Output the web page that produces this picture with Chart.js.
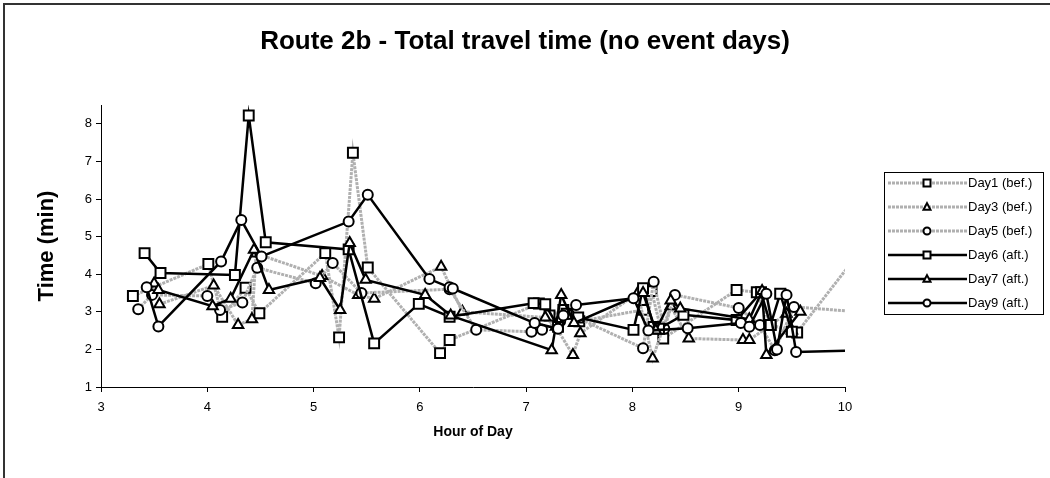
<!DOCTYPE html>
<html>
<head>
<meta charset="utf-8">
<script src="https://cdn.jsdelivr.net/npm/chart.js@4.4.0/dist/chart.umd.min.js"></script>
<style>
  html, body { margin: 0; padding: 0; background: #fff; }
  #wrap { position: relative; width: 1050px; height: 478px; }
</style>
</head>
<body>
<div id="wrap"><canvas id="canvas"></canvas></div>
<script>
var chartTitle = 'Route 2b - Total travel time (no event days)';
var xTitle = 'Hour of Day';
var yTitle = 'Time (min)';
var xTicks = [3, 4, 5, 6, 7, 8, 9, 10];
var yTicks = [1, 2, 3, 4, 5, 6, 7, 8];

var seriesNames = ['Day1 (bef.)', 'Day3 (bef.)', 'Day5 (bef.)', 'Day6 (aft.)', 'Day7 (aft.)', 'Day9 (aft.)'];

// before-event days (grey lines)
var day1Hours = [3.30, 4.01, 4.14, 4.36, 4.49, 5.11, 5.24, 5.37, 5.51, 6.19, 6.28, 7.12, 7.22, 7.35, 7.50, 8.10, 8.18, 8.29, 8.98, 9.17, 9.30, 9.55, 10.25];
var day1Times = [3.42, 4.27, 2.87, 3.64, 2.96, 4.56, 2.32, 7.23, 4.18, 1.90, 2.25, 3.22, 2.90, 3.05, 2.75, 3.05, 3.55, 2.29, 3.58, 3.52, 2.65, 2.45, 5.00];

var day3Hours = [3.55, 4.06, 4.29, 4.42, 4.46, 5.08, 5.42, 5.57, 6.20, 6.40, 7.18, 7.28, 7.44, 7.51, 8.05, 8.19, 8.36, 8.53, 9.04, 9.10, 9.45, 9.50];
var day3Times = [3.20, 3.70, 2.65, 2.80, 4.55, 3.95, 3.45, 3.35, 4.20, 3.00, 2.85, 2.60, 1.85, 2.43, 3.50, 1.76, 3.15, 2.29, 2.25, 2.25, 2.95, 2.50];

var day5Hours = [3.35, 3.48, 4.00, 4.12, 4.33, 4.47, 5.02, 5.18, 5.45, 6.28, 6.53, 7.05, 7.15, 7.32, 7.40, 8.10, 8.20, 8.30, 8.40, 9.00, 9.20, 9.34, 9.52, 10.50];
var day5Times = [3.07, 3.45, 3.42, 3.05, 3.25, 4.17, 3.76, 4.30, 3.50, 3.60, 2.52, 2.47, 2.52, 2.75, 2.95, 2.03, 3.80, 2.55, 3.45, 3.10, 2.65, 1.98, 3.13, 2.92];

// after-event days (black lines)
var day6Hours = [3.41, 3.56, 4.26, 4.39, 4.55, 5.33, 5.57, 5.99, 6.28, 7.07, 7.18, 7.30, 7.38, 7.49, 8.01, 8.10, 8.20, 8.25, 8.48, 8.98, 9.21, 9.30, 9.39, 9.50];
var day6Times = [4.56, 4.03, 3.98, 8.22, 4.85, 4.66, 2.16, 3.21, 2.87, 3.23, 3.20, 2.60, 2.95, 2.85, 2.52, 3.63, 2.60, 2.55, 2.92, 2.78, 3.52, 2.65, 3.48, 2.47];

var day7Hours = [3.50, 3.54, 4.05, 4.22, 4.44, 4.58, 5.06, 5.25, 5.34, 5.49, 6.05, 6.29, 7.24, 7.33, 7.45, 8.10, 8.22, 8.36, 8.45, 9.10, 9.22, 9.26, 9.58];
var day7Times = [3.75, 3.58, 3.15, 3.35, 4.65, 3.58, 3.90, 3.05, 4.83, 3.85, 3.45, 2.90, 1.98, 3.45, 2.70, 3.50, 2.50, 3.30, 3.09, 2.80, 3.55, 1.85, 3.00];

var day9Hours = [3.43, 3.54, 4.13, 4.32, 4.51, 5.33, 5.51, 6.09, 6.28, 6.31, 7.08, 7.30, 7.35, 7.47, 8.01, 8.15, 8.52, 9.02, 9.10, 9.26, 9.36, 9.45, 9.54, 10.80];
var day9Times = [3.65, 2.61, 4.34, 5.44, 4.47, 5.40, 6.11, 3.87, 3.65, 3.62, 2.70, 2.55, 2.90, 3.18, 3.36, 2.50, 2.56, 2.70, 2.60, 3.48, 2.00, 3.45, 1.93, 2.03];

var allHours = [day1Hours, day3Hours, day5Hours, day6Hours, day7Hours, day9Hours];
var allTimes = [day1Times, day3Times, day5Times, day6Times, day7Times, day9Times];
var markerShapes = ['rect', 'triangle', 'circle', 'rect', 'triangle', 'circle'];
var markerRadius = { rect: 7, triangle: 6, circle: 5 };

function pairs(xs, ys) {
  var out = [];
  for (var i = 0; i < xs.length; i++) out.push({ x: xs[i], y: ys[i] });
  return out;
}

var datasets = seriesNames.map(function (name, i) {
  var before = i < 3;
  return {
    label: name,
    data: pairs(allHours[i], allTimes[i]),
    borderColor: before ? '#b0b0b0' : '#000000',
    borderWidth: before ? 3 : 2.5,
    borderDash: before ? [3, 1] : [],
    pointStyle: markerShapes[i],
    pointRadius: markerRadius[markerShapes[i]],
    pointBorderColor: '#000000',
    pointBackgroundColor: '#ffffff',
    pointBorderWidth: 2,
    tension: 0,
    order: 6 - i
  };
});

function drawMarker(ctx, shape, x, y, r) {
  ctx.beginPath();
  if (shape === 'rect') {
    ctx.rect(x - r, y - r, 2 * r, 2 * r);
  } else if (shape === 'triangle') {
    ctx.moveTo(x, y - r * 1.1);
    ctx.lineTo(x + r, y + r * 0.8);
    ctx.lineTo(x - r, y + r * 0.8);
    ctx.closePath();
  } else {
    ctx.arc(x, y, r, 0, Math.PI * 2);
  }
  ctx.fill();
  ctx.stroke();
}

var decorations = {
  id: 'decorations',
  beforeDraw: function (chart) {
    var ctx = chart.ctx;
    ctx.save();
    ctx.fillStyle = '#ffffff';
    ctx.fillRect(0, 0, chart.width, chart.height);
    ctx.strokeStyle = '#333333';
    ctx.lineWidth = 2;
    ctx.strokeRect(4, 4, chart.width + 20, chart.height + 20);
    ctx.restore();
  },
  afterDraw: function (chart) {
    var ctx = chart.ctx;
    ctx.save();
    // title
    ctx.fillStyle = '#000';
    ctx.font = 'bold 26px "Liberation Sans", Arial, sans-serif';
    ctx.textAlign = 'center';
    ctx.textBaseline = 'middle';
    ctx.fillText(chartTitle, 525, 42);

    // legend
    ctx.strokeStyle = '#000';
    ctx.lineWidth = 1;
    ctx.strokeRect(884.5, 172.5, 159, 142);
    ctx.font = '13px "Liberation Sans", Arial, sans-serif';
    ctx.textAlign = 'left';
    chart.data.datasets.forEach(function (ds, i) {
      var y = 183 + i * 24;
      ctx.strokeStyle = ds.borderColor;
      ctx.lineWidth = ds.borderWidth;
      ctx.setLineDash(ds.borderDash);
      ctx.beginPath();
      ctx.moveTo(888, y);
      ctx.lineTo(967, y);
      ctx.stroke();
      ctx.setLineDash([]);
      ctx.strokeStyle = '#000';
      ctx.fillStyle = '#fff';
      ctx.lineWidth = 2;
      drawMarker(ctx, ds.pointStyle, 927, y, 3.5);
      ctx.fillStyle = '#000';
      ctx.fillText(ds.label, 968, y);
    });
    ctx.restore();
  }
};

var ctx = document.getElementById('canvas').getContext('2d');
var myChart = new Chart(ctx, {
  type: 'line',
  data: { datasets: datasets },
  plugins: [decorations],
  options: {
    responsive: true,
    maintainAspectRatio: false,
    animation: false,
    layout: { padding: { top: 105, right: 205, left: 0, bottom: 0 } },
    plugins: {
      legend: { display: false },
      title: { display: false },
      tooltip: { enabled: false }
    },
    scales: {
      x: {
        type: 'linear',
        min: 3,
        max: 10,
        afterBuildTicks: function (scale) {
          scale.ticks = xTicks.map(function (v) { return { value: v }; });
        },
        afterFit: function (scale) { scale.height = 91; },
        grid: { drawOnChartArea: false, drawTicks: true, tickLength: 5, color: '#000' },
        border: { color: '#000', width: 1 },
        ticks: { color: '#000', padding: 8, maxRotation: 0, font: { family: '"Liberation Sans", Arial, sans-serif', size: 13 } },
        title: {
          display: true,
          text: xTitle,
          color: '#000',
          padding: { top: 0, bottom: 37 },
          font: { family: '"Liberation Sans", Arial, sans-serif', size: 14, weight: 'bold' }
        }
      },
      y: {
        type: 'linear',
        min: 1,
        max: 8.5,
        afterBuildTicks: function (scale) {
          scale.ticks = yTicks.map(function (v) { return { value: v }; });
        },
        afterFit: function (scale) { scale.width = 101; },
        grid: { drawOnChartArea: false, drawTicks: true, tickLength: 5, color: '#000' },
        border: { color: '#000', width: 1 },
        ticks: { color: '#000', padding: 4, font: { family: '"Liberation Sans", Arial, sans-serif', size: 13 } },
        title: {
          display: true,
          text: yTitle,
          color: '#000',
          padding: { top: 34, bottom: 0 },
          font: { family: '"Liberation Sans", Arial, sans-serif', size: 22, weight: 'bold' }
        }
      }
    }
  }
});
</script>
</body>
</html>
